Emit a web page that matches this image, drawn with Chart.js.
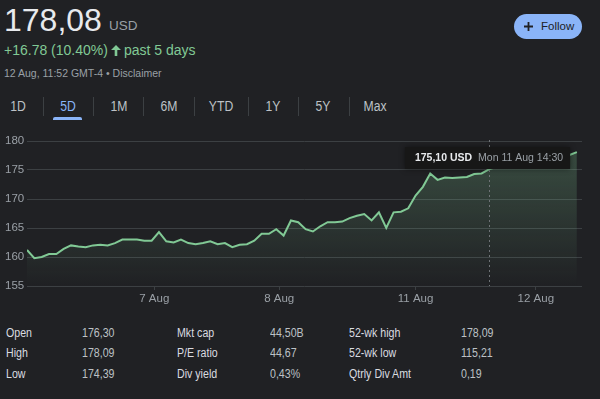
<!DOCTYPE html>
<html>
<head>
<meta charset="utf-8">
<script src="https://cdn.jsdelivr.net/npm/chart.js@4.4.1/dist/chart.umd.min.js"></script>
<style>
  html, body { margin: 0; padding: 0; width: 600px; height: 399px; overflow: hidden;
    background: #202124; font-family: Arial, "Liberation Sans", sans-serif; }
  .abs { position: absolute; white-space: nowrap; line-height: 1; }
  #price { left: 4px; top: 4px; font-size: 32px; color: #e8eaed; }
  #cur { left: 109px; top: 19px; font-size: 13.5px; color: #9aa0a6; }
  #change { left: 4px; top: 42.5px; font-size: 14px; color: #81c995; }
  #change svg { vertical-align: -1px; margin: 0 3px 0 3px; }
  #stamp { left: 4px; top: 68px; font-size: 10.5px; color: #9aa0a6; }
  .tab { top: 99px; font-size: 14px; color: #bdc1c6; transform: translateX(-50%) scaleX(0.87); }
  .tab.on { color: #8ab4f8; }
  .sep { top: 97px; width: 1px; height: 19px; background: #3c4043; }
  #underline { left: 53px; top: 117px; width: 29px; height: 3px; background: #8ab4f8; border-radius: 2px 2px 0 0; }
  #follow { left: 514px; top: 14px; width: 68px; height: 25px; border-radius: 13px; background: #8ab4f8;
    color: #202124; font-size: 11.5px; }
  #follow svg { position: absolute; left: 10px; top: 8px; }
  #follow span { position: absolute; left: 27px; top: 7px; }
  #chartBox { position: absolute; left: 0; top: 130px; width: 600px; height: 180px; }
  .st { font-size: 12.5px; transform-origin: left center; transform: scaleX(0.85); }
  .lab { color: #dadce0; }
  .val { color: #bdc1c6; }
</style>
</head>
<body>
<div class="abs" id="price">178,08</div>
<div class="abs" id="cur">USD</div>
<div class="abs" id="change">+16.78 (10.40%)<svg width="10" height="11" viewBox="0 0 10 11"><path d="M5 0 L10 5 L6.3 5 L6.3 11 L3.7 11 L3.7 5 L0 5 Z" fill="#81c995"/></svg>past 5 days</div>
<div class="abs" id="stamp">12 Aug, 11:52 GMT-4 • Disclaimer</div>

<div class="abs tab" style="left:18px">1D</div>
<div class="abs tab on" style="left:68px">5D</div>
<div class="abs tab" style="left:119px">1M</div>
<div class="abs tab" style="left:169px">6M</div>
<div class="abs tab" style="left:221px">YTD</div>
<div class="abs tab" style="left:273px">1Y</div>
<div class="abs tab" style="left:323px">5Y</div>
<div class="abs tab" style="left:375px">Max</div>
<div class="abs sep" style="left:43px"></div>
<div class="abs sep" style="left:93px"></div>
<div class="abs sep" style="left:143px"></div>
<div class="abs sep" style="left:194px"></div>
<div class="abs sep" style="left:248px"></div>
<div class="abs sep" style="left:298px"></div>
<div class="abs sep" style="left:349px"></div>
<div class="abs" id="underline"></div>

<div class="abs" id="follow">
  <svg width="9" height="9" viewBox="0 0 9 9"><path d="M0 4.5 H9 M4.5 0 V9" stroke="#202124" stroke-width="1.8"/></svg>
  <span>Follow</span>
</div>

<div id="chartBox"><canvas id="chart"></canvas></div>

<div class="abs st lab" style="left:6px;top:326.5px">Open</div>
<div class="abs st val" style="left:82px;top:326.5px">176,30</div>
<div class="abs st lab" style="left:177px;top:326.5px">Mkt cap</div>
<div class="abs st val" style="left:270px;top:326.5px">44,50B</div>
<div class="abs st lab" style="left:349px;top:326.5px">52-wk high</div>
<div class="abs st val" style="left:461px;top:326.5px">178,09</div>

<div class="abs st lab" style="left:6px;top:347px">High</div>
<div class="abs st val" style="left:82px;top:347px">178,09</div>
<div class="abs st lab" style="left:177px;top:347px">P/E ratio</div>
<div class="abs st val" style="left:270px;top:347px">44,67</div>
<div class="abs st lab" style="left:349px;top:347px">52-wk low</div>
<div class="abs st val" style="left:461px;top:347px">115,21</div>

<div class="abs st lab" style="left:6px;top:367.5px">Low</div>
<div class="abs st val" style="left:82px;top:367.5px">174,39</div>
<div class="abs st lab" style="left:177px;top:367.5px">Div yield</div>
<div class="abs st val" style="left:270px;top:367.5px">0,43%</div>
<div class="abs st lab" style="left:349px;top:367.5px">Qtrly Div Amt</div>
<div class="abs st val" style="left:461px;top:367.5px">0,19</div>

<script>
// 5 trading days, one price per interval
const prices = [
  161.2, 159.8, 160.0, 160.5, 160.5, 161.4, 162.0, 161.8, 161.7, 162.0,
  162.1, 162.0, 162.4, 163.0, 163.0, 163.0, 162.8, 162.8, 164.3, 162.7,
  162.5, 163.0, 162.4, 162.2, 162.4, 162.7, 162.2, 162.4, 161.7, 162.1,
  162.2, 162.8, 164.0, 164.0, 164.8, 163.7, 166.3, 166.0, 164.8, 164.4,
  165.3, 166.0, 166.0, 166.1, 166.7, 167.1, 167.4, 166.3, 167.7, 165.0,
  167.7, 167.8, 168.4, 170.6, 172.1, 174.4, 173.3, 173.7, 173.6, 173.7,
  173.8, 174.3, 174.4, 175.1, 175.5, 175.6, 175.8, 176.0, 175.9, 176.3,
  176.8, 176.6, 177.0, 177.3, 177.6, 178.08
];
const dayTickPos = [17.36, 34.4, 53, 69.4];
const dayTickLabels = ['7 Aug', '8 Aug', '11 Aug', '12 Aug'];
const yMin = 155, yMax = 180, yStep = 5;

// hovered point shown in the tooltip
const tipIndex = 63;
const tipPrice = '175,10 USD';
const tipTime = 'Mon 11 Aug 14:30';

const FONT = 'Arial, "Liberation Sans", sans-serif';
Chart.defaults.font.family = FONT;

// dotted crosshair + tooltip box
const hoverTip = {
  id: 'hoverTip',
  afterDraw(chart) {
    const { ctx, chartArea: a, scales: { x } } = chart;
    const px = Math.round(x.getPixelForValue(tipIndex)) + 0.5;
    ctx.save();
    ctx.strokeStyle = '#6f7377';
    ctx.lineWidth = 1;
    ctx.setLineDash([2, 3]);
    ctx.beginPath();
    ctx.moveTo(px, a.top - 1);
    ctx.lineTo(px, a.bottom);
    ctx.stroke();
    ctx.setLineDash([]);

    ctx.font = 'bold 10.5px ' + FONT;
    const w1 = ctx.measureText(tipPrice).width;
    ctx.font = '10.5px ' + FONT;
    const w2 = ctx.measureText(tipTime).width;
    const w = 10 + w1 + 6 + w2 + 7;
    const h = 22;
    let bx = px - w / 2 - 2;
    if (bx + w > a.right - 11) bx = a.right - 11 - w;
    const by = a.top + 6;

    ctx.shadowColor = 'rgba(0,0,0,0.45)';
    ctx.shadowBlur = 6;
    ctx.fillStyle = '#171717';
    ctx.fillRect(bx, by, w, h);
    ctx.shadowBlur = 0;
    ctx.shadowColor = 'transparent';

    ctx.textBaseline = 'middle';
    ctx.textAlign = 'left';
    ctx.font = 'bold 10.5px ' + FONT;
    ctx.fillStyle = '#e8eaed';
    ctx.fillText(tipPrice, bx + 10, by + h / 2 + 0.5);
    ctx.font = '10.5px ' + FONT;
    ctx.fillStyle = '#9aa0a6';
    ctx.fillText(tipTime, bx + 10 + w1 + 6, by + h / 2 + 0.5);
    ctx.restore();
  }
};

const ctx = document.getElementById('chart').getContext('2d');
new Chart(ctx, {
  type: 'line',
  data: {
    datasets: [{
      data: prices.map((p, i) => ({ x: i, y: p })),
      borderColor: '#81c995',
      borderWidth: 2,
      pointRadius: 0,
      tension: 0,
      fill: 'start',
      backgroundColor: (c) => {
        const area = c.chart.chartArea;
        if (!area) return 'transparent';
        const g = c.chart.ctx.createLinearGradient(0, area.top, 0, area.bottom);
        g.addColorStop(0, 'rgba(129,201,149,0.28)');
        g.addColorStop(1, 'rgba(129,201,149,0)');
        return g;
      }
    }]
  },
  options: {
    responsive: true,
    maintainAspectRatio: false,
    animation: false,
    layout: { padding: { left: 5, right: 18, top: 11, bottom: 0 } },
    plugins: { legend: { display: false }, tooltip: { enabled: false } },
    scales: {
      x: {
        type: 'linear',
        min: 0,
        max: 75.7,
        afterBuildTicks: (s) => { s.ticks = dayTickPos.map(v => ({ value: v })); },
        afterFit: (s) => { s.height = 24; },
        ticks: {
          autoSkip: false,
          maxRotation: 0,
          padding: 2,
          color: '#9aa0a6',
          font: { size: 11.5 },
          callback: (v, i) => dayTickLabels[i]
        },
        grid: { drawOnChartArea: false, drawTicks: true, tickLength: 4, color: '#3c4043' },
        border: { display: false }
      },
      y: {
        min: yMin,
        max: yMax,
        afterFit: (s) => { s.width = 22; },
        ticks: {
          stepSize: yStep,
          crossAlign: 'far',
          padding: 0,
          color: '#9aa0a6',
          font: { size: 11.5 }
        },
        grid: { color: '#3c4043', drawTicks: false },
        border: { display: false }
      }
    }
  },
  plugins: [hoverTip]
});
</script>
</body>
</html>
